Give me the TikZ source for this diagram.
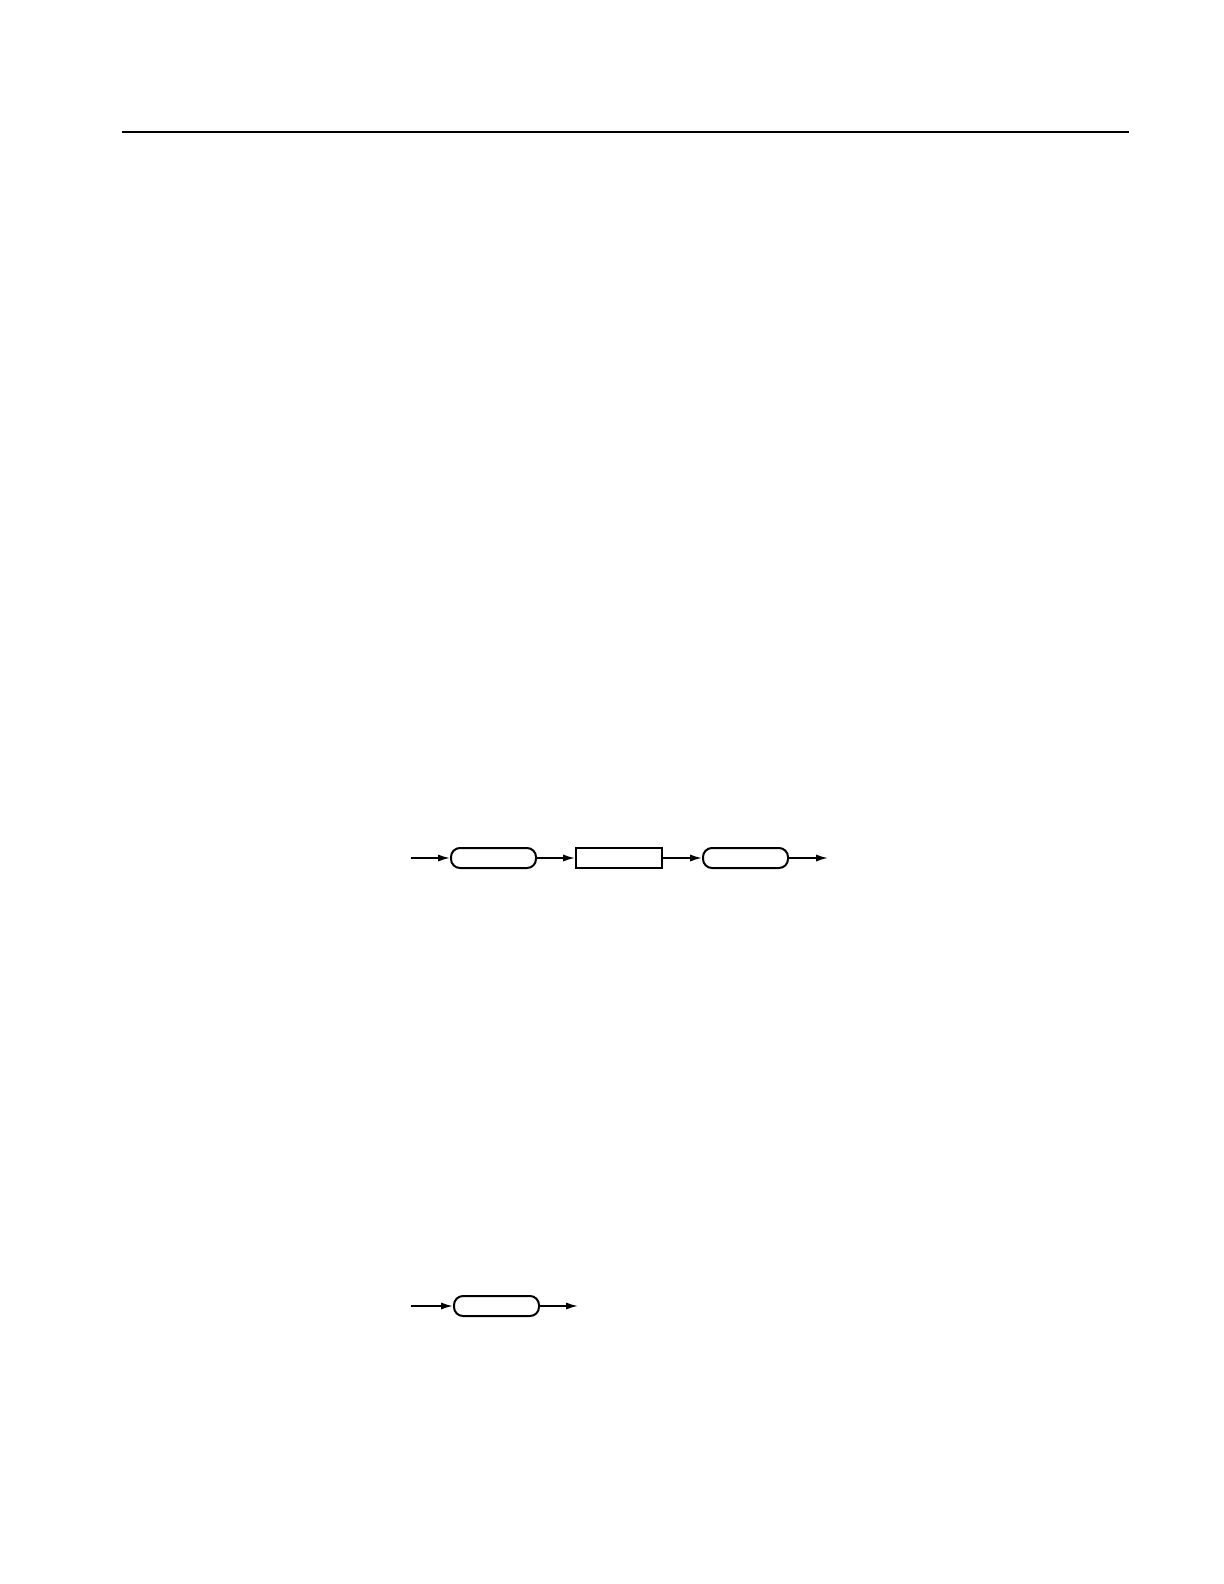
\documentclass[tikz,border=0pt]{standalone}
\usetikzlibrary{arrows.meta}

\begin{document}
\begin{tikzpicture}[x=0.5bp,y=-0.5bp]

  \useasboundingbox (0,0) rectangle (1224,1584);

  % node styles
  \tikzstyle{Round}=[
  anchor=west,
  line width=1bp,
  minimum width=42.5bp,minimum height=10bp,
  inner sep=0mm,
  shape=rectangle,rounded corners=4.5bp,draw]

  \tikzstyle{Box}=[Round,minimum width=43bp,sharp corners]

  \tikzstyle{Flow}=[line width=0.85bp,-{Latex[length=6bp,width=3.6bp]}]

  % top rule
  \coordinate (L) at (122,132);
  \coordinate (R) at (1129,132);
  \draw[line width=0.65bp] (L) -- (R);

  % first chain
  \node[anchor=center,inner sep=0mm] (X) at (410,858) {};

  \draw (X) node[Round] (A1) at +( 40,0) {};
  \draw (X) node[Box]   (A2) at +(165,0) {};
  \draw (X) node[Round] (A3) at +(292,0) {};
  \coordinate (XE) at (828,858);

  \draw[Flow] (X) -- (A1.west);
  \draw[Flow] (A1.east) -- (A2.west);
  \draw[Flow] (A2.east) -- (A3.west);
  \draw[Flow] (A3.east) -- (XE);

  % second chain
  \node[anchor=center,inner sep=0mm] (Y) at (410,1306) {};

  \draw (Y) node[Round] (B1) at +( 43,0) {};
  \coordinate (YE) at (578,1306);

  \draw[Flow] (Y) -- (B1.west);
  \draw[Flow] (B1.east) -- (YE);

\end{tikzpicture}
\end{document}
